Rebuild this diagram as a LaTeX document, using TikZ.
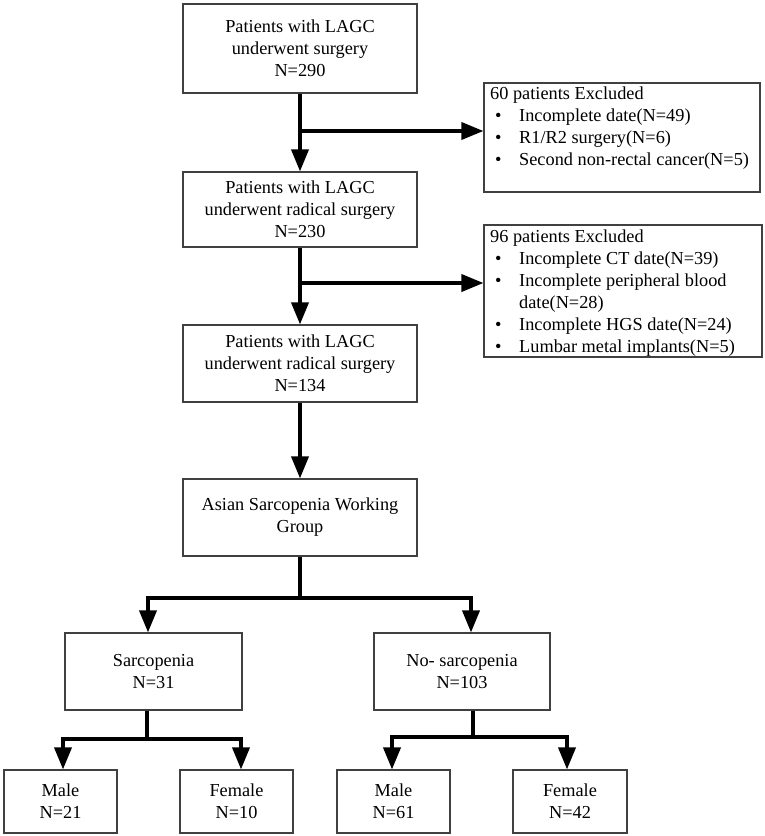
\documentclass[tikz,border=0pt]{standalone}
\usepackage{fontspec}
\setmainfont{Liberation Serif}
\usetikzlibrary{arrows.meta}
\newcommand\exbullet{\makebox[29pt][l]{\hspace{5pt}•}}
\begin{document}
\begin{tikzpicture}[x=1pt,y=-1pt,
  box/.style={draw=black!75, line width=1.1pt, inner sep=0pt, align=center,
    font=\fontsize{18.3}{22}\selectfont},
  extext/.style={inner sep=0pt, align=left, anchor=north west,
    font=\fontsize{18.3}{22}\selectfont},
  arr/.style={line width=3.6pt, -{Triangle[length=22pt,width=17pt]}},
  conn/.style={line width=3.6pt}]
\useasboundingbox (0,0) rectangle (765,836);

% main column
\node[box, minimum width=234pt, minimum height=89pt] (b1) at (300,48.5)
  {Patients with LAGC\\underwent surgery\\N=290};
\node[box, minimum width=234pt, minimum height=75pt] (b2) at (300,209.5)
  {Patients with LAGC\\underwent radical surgery\\N=230};
\node[box, minimum width=234pt, minimum height=77pt] (b3) at (300,363.5)
  {Patients with LAGC\\underwent radical surgery\\N=134};
\node[box, minimum width=234pt, minimum height=77pt] (b4) at (300,517.5)
  {Asian Sarcopenia Working\\Group};

% exclusion boxes
\node[box, minimum width=276pt, minimum height=109pt] (ex1) at (622,137.5) {};
\node[extext] (ex1t) at (490,87)
  {60 patients Excluded\\
   \exbullet Incomplete date(N=49)\\
   \exbullet R1/R2 surgery(N=6)\\
   \exbullet Second non-rectal cancer(N=5)};
\node[box, minimum width=278pt, minimum height=132pt] (ex2) at (623,291) {};
\node[extext] (ex2t) at (490,229.5)
  {96 patients Excluded\\
   \exbullet Incomplete CT date(N=39)\\
   \exbullet Incomplete peripheral blood\\
   \hspace*{29pt}date(N=28)\\
   \exbullet Incomplete HGS date(N=24)\\
   \exbullet Lumbar metal implants(N=5)};

% groups
\node[box, minimum width=177pt, minimum height=77pt] (sarc) at (153.5,671.5)
  {Sarcopenia\\N=31};
\node[box, minimum width=176pt, minimum height=77pt] (nosarc) at (462,671.5)
  {No- sarcopenia\\N=103};

% sex boxes
\node[box, minimum width=113pt, minimum height=63pt] (m1) at (60.5,801.5) {Male\\N=21};
\node[box, minimum width=113pt, minimum height=63pt] (f1) at (236.5,801.5) {Female\\N=10};
\node[box, minimum width=113pt, minimum height=63pt] (m2) at (393.5,801.5) {Male\\N=61};
\node[box, minimum width=114pt, minimum height=63pt] (f2) at (570,801.5) {Female\\N=42};

% connectors
\coordinate (j1) at (300,131);
\coordinate (j2) at (300,283);
\draw[arr] (b1) -- (b2);
\draw[arr] (j1) -- (j1 -| ex1.west);
\draw[arr] (b2) -- (b3);
\draw[arr] (j2) -- (j2 -| ex2.west);
\draw[arr] (b3) -- (b4);

\coordinate (j4) at (300,598);
\coordinate (sL) at (148,598);
\coordinate (sR) at (471,598);
\draw[conn] (b4) -- (j4);
\draw[arr] (j4) -| (sL |- sarc.north);
\draw[arr] (j4) -| (sR |- nosarc.north);

\coordinate (j5) at (147,739);
\coordinate (a5L) at (63,739);
\coordinate (a5R) at (241,739);
\draw[conn] (j5 |- sarc.south) -- (j5);
\draw[arr] (j5) -| (a5L |- m1.north);
\draw[arr] (j5) -| (a5R |- f1.north);

\coordinate (j6) at (473,737);
\coordinate (a6L) at (392,737);
\coordinate (a6R) at (567,737);
\draw[conn] (j6 |- nosarc.south) -- (j6);
\draw[arr] (j6) -| (a6L |- m2.north);
\draw[arr] (j6) -| (a6R |- f2.north);
\end{tikzpicture}
\end{document}
